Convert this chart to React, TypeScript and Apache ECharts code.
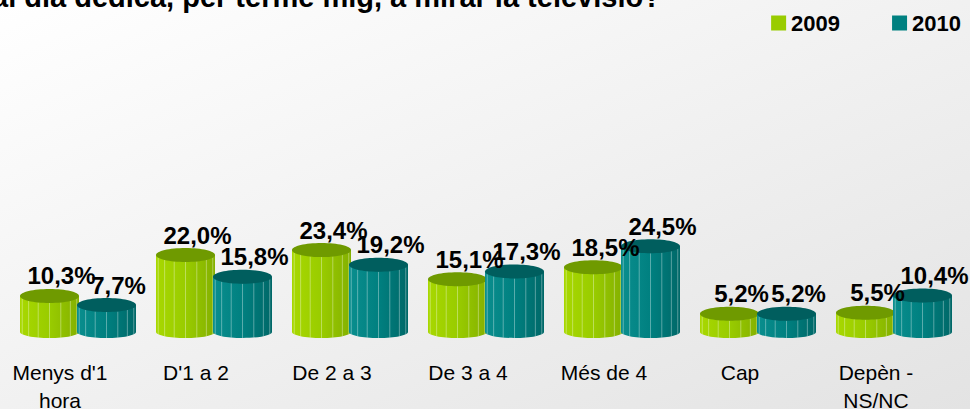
import React, { useEffect, useRef } from "react";
import * as echarts from "echarts";

const titleText = "al dia dedica, per terme mig, a mirar la televisió?";
const categories = ["Menys d'1\nhora", "D'1 a 2", "De 2 a 3", "De 3 a 4", "Més de 4", "Cap", "Depèn -\nNS/NC"];
const seriesNames = ["2009", "2010"];
const values2009 = [10.3, 22.0, 23.4, 15.1, 18.5, 5.2, 5.5];
const values2010 = [7.7, 15.8, 19.2, 17.3, 24.5, 5.2, 10.4];

const FONT = "'Liberation Sans', Arial, sans-serif";

const palette = [
  { base: "#99cc00", light: "#a8d800", dark: "#84b000", top: "#6f9a00" },
  { base: "#008080", light: "#0a8e8e", dark: "#006868", top: "#005e5e" },
];

function fmt(v: number) {
  return v.toFixed(1).replace(".", ",") + "%";
}

function makeRender(si: number) {
  const col = palette[si];
  const offset = si === 0 ? -28.5 : 28.5;
  return (params: any, api: any) => {
    const idx = api.value(0);
    const v = api.value(1);
    const top = api.coord([idx, v]);
    const base = api.coord([idx, 0]);
    const cx = top[0] + offset;
    const rx = 29.5;
    const ryTop = 7;
    const ryBot = 6;
    const ty = top[1];
    const by = base[1];
    const grad = {
      type: "linear", x: 0, y: 0, x2: 1, y2: 0,
      colorStops: [
        { offset: 0, color: col.light },
        { offset: 0.5, color: col.base },
        { offset: 1, color: col.dark },
      ],
    };
    const zb = si * 20;
    const children: any[] = [
      { type: "ellipse", shape: { cx, cy: by, rx, ry: ryBot }, style: { fill: grad }, z2: zb + 1 },
      { type: "rect", shape: { x: cx - rx, y: ty, width: rx * 2, height: by - ty }, style: { fill: grad }, z2: zb + 2 },
    ];
    const n = 8;
    for (let k = 1; k < n; k++) {
      const ang = -Math.PI / 2 + (Math.PI * k) / n;
      const dx = rx * Math.sin(ang);
      const f = Math.sqrt(Math.max(0, 1 - (dx / rx) * (dx / rx)));
      children.push({
        type: "line",
        shape: { x1: cx + dx, y1: ty + ryTop * f, x2: cx + dx, y2: by + ryBot * f },
        style: { stroke: "rgba(255,255,255,0.35)", lineWidth: 1 },
        z2: zb + 3,
      });
    }
    children.push({ type: "ellipse", shape: { cx, cy: ty, rx, ry: ryTop }, style: { fill: col.top }, z2: zb + 4 });
    children.push({
      type: "text",
      x: cx + 12,
      y: ty - 20,
      style: { text: fmt(v), fill: "#000", font: `bold 24px ${FONT}`, align: "center", verticalAlign: "middle" },
      z2: 100,
    });
    return { type: "group", children };
  };
}

export default function App() {
  const ref = useRef<HTMLDivElement>(null);
  useEffect(() => {
    document.body.style.margin = "0";
    const chart = echarts.init(ref.current!, undefined, { renderer: "svg" });
    const allValues = [values2009, values2010];
    chart.setOption({
      animation: false,
      backgroundColor: {
        type: "linear", x: 0, y: 0, x2: 1, y2: 1,
        colorStops: [
          { offset: 0, color: "#ffffff" },
          { offset: 1, color: "#e3e3e3" },
        ],
      },
      graphic: [
        {
          type: "text",
          x: -8,
          y: 11,
          style: {
            text: titleText,
            fill: "#000",
            font: `bold 29px ${FONT}`,
            align: "left",
            verticalAlign: "bottom",
          },
        },
      ],
      legend: {
        right: 4,
        top: 7,
        itemWidth: 15,
        itemHeight: 15,
        itemGap: 52,
        icon: "rect",
        textStyle: { fontFamily: FONT, fontWeight: "bold", fontSize: 22, color: "#000" },
        data: seriesNames,
      },
      grid: { left: 10, right: 8, top: 227, bottom: 77, outerBoundsMode: "none", containLabel: false },
      xAxis: {
        type: "category",
        data: categories,
        axisLine: { show: false },
        axisTick: { show: false },
        axisLabel: {
          interval: 0,
          margin: 26,
          color: "#000",
          fontFamily: FONT,
          fontSize: 21,
          lineHeight: 28,
          padding: [0, 36, 0, 0],
        },
      },
      yAxis: { type: "value", min: 0, max: 30, show: false, splitLine: { show: false } },
      series: seriesNames.map((name, si) => ({
        type: "custom",
        name,
        itemStyle: { color: palette[si].base },
        renderItem: makeRender(si),
        encode: { x: 0, y: 1 },
        data: allValues[si].map((v, i) => [i, v]),
      })),
    });
    return () => chart.dispose();
  }, []);
  return <div ref={ref} style={{ position: "fixed", left: 0, top: 0, width: 970, height: 409 }} />;
}
